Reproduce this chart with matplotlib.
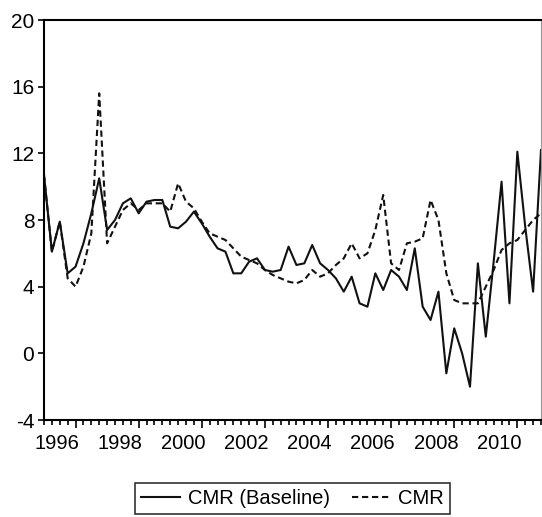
import numpy as np
import matplotlib
matplotlib.use("Agg")
from matplotlib import pyplot as plt

plt.rcParams['font.family'] = ['Liberation Sans', 'DejaVu Sans']
plt.rcParams['axes.unicode_minus'] = False

# quarterly series, 1996Q1 - 2011Q4
start_year = 1996
cmr_baseline = [10.7, 6.1, 7.9, 4.8, 5.2, 6.6, 8.4, 10.5,
                7.4, 8.0, 9.0, 9.3, 8.4, 9.1, 9.2, 9.2,
                7.6, 7.5, 7.9, 8.5, 7.8, 7.0, 6.3, 6.1,
                4.8, 4.8, 5.5, 5.7, 5.0, 4.9, 5.0, 6.4,
                5.3, 5.4, 6.5, 5.4, 5.0, 4.5, 3.7, 4.6,
                3.0, 2.8, 4.8, 3.8, 5.0, 4.6, 3.8, 6.3,
                2.8, 2.0, 3.7, -1.2, 1.5, 0.0, -2.0, 5.4,
                1.0, 5.5, 10.3, 3.0, 12.1, 7.6, 3.7, 12.2]
cmr = [10.7, 6.1, 7.9, 4.5, 4.0, 5.2, 7.2, 15.6,
       6.6, 7.6, 8.6, 9.0, 8.6, 9.0, 9.0, 9.0,
       8.5, 10.2, 9.1, 8.7, 7.9, 7.2, 7.0, 6.8,
       6.3, 5.8, 5.6, 5.4, 5.0, 4.7, 4.5, 4.3,
       4.2, 4.4, 5.0, 4.6, 4.8, 5.3, 5.7, 6.6,
       5.7, 6.0, 7.4, 9.5, 5.4, 5.0, 6.6, 6.7,
       6.9, 9.2, 8.0, 4.8, 3.2, 3.0, 3.0, 3.0,
       4.0, 5.0, 6.2, 6.6, 6.8, 7.4, 8.0, 8.4]
year_labels = ['1996', '1998', '2000', '2002', '2004', '2006', '2008', '2010']
yticks = [-4, 0, 4, 8, 12, 16, 20]

t = start_year + np.arange(len(cmr)) / 4.0

fig = plt.figure(figsize=(5.42, 5.17), dpi=100)
ax = fig.add_axes([44/542, 97/517, 497/542, 400/517])

l1, = ax.plot(t, cmr_baseline, color='#111111', lw=1.5, label='CMR (Baseline)')
l2, = ax.plot(t, cmr, color='#111111', lw=1.5, dashes=(3, 1.8), label='CMR')

ax.set_xlim(start_year, t[-1])
ax.set_ylim(-4, 20)
ax.set_yticks(yticks)
ax.tick_params(axis='y', labelsize=15, length=4, width=1.2, pad=3)

# quarter ticks, longer ticks on odd years
ax.set_xticks(np.arange(1997, 2012, 2))
ax.set_xticklabels([])
ax.set_xticks(np.arange(start_year, t[-1] + 0.01, 0.25), minor=True)
ax.tick_params(axis='x', which='major', length=6, width=1.2)
ax.tick_params(axis='x', which='minor', length=3.5, width=1.2)

# year labels sit a little right of the year start
sec = ax.secondary_xaxis('bottom')
sec.set_xticks([int(y) + 0.42 for y in year_labels], year_labels)
sec.tick_params(length=0, labelsize=14.5, pad=10)
sec.spines['bottom'].set_visible(False)

for s in ['left', 'bottom', 'top']:
    ax.spines[s].set_linewidth(1.5)
ax.spines['right'].set_linewidth(0.8)
ax.spines['right'].set_color('#999999')

leg = fig.legend(handles=[l1, l2], loc='lower center', bbox_to_anchor=(0.54, 0.005),
                 ncol=2, fontsize=14.5, frameon=True, fancybox=False, handlelength=1.9,
                 handletextpad=0.4, columnspacing=1.1, borderpad=0.3, borderaxespad=0)
leg.get_frame().set_edgecolor('black')
leg.get_frame().set_linewidth(1.2)

fig.savefig('out.png', dpi=100)
